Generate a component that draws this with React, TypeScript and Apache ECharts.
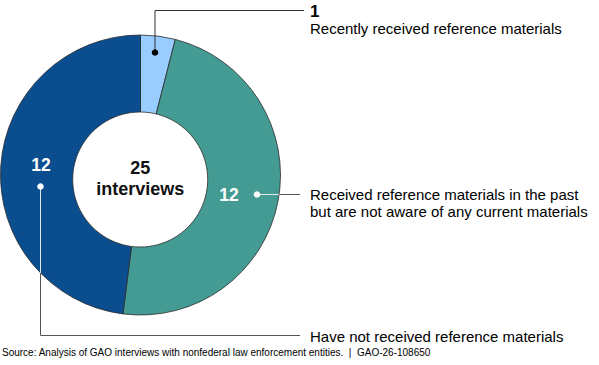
import React, { useEffect, useRef } from "react";
import * as echarts from "echarts";

const categories = [
  "Recently received reference materials",
  "Received reference materials in the past\nbut are not aware of any current materials",
  "Have not received reference materials",
];
const values = [1, 12, 12];
const colors = ["#99CCFF", "#449B93", "#0A4E90"];
const totalLabel = "interviews";
const sourceText =
  "Source: Analysis of GAO interviews with nonfederal law enforcement entities.  |  GAO-26-108650";

const FONT = "'Liberation Sans', Arial, sans-serif";

export default function App() {
  const ref = useRef<HTMLDivElement>(null);
  useEffect(() => {
    if (!ref.current) return;
    const chart = echarts.init(ref.current, null, { renderer: "svg" });
    const total = values.reduce((a, b) => a + b, 0);
    const lineDark = "#555555";
    const lineLight = "#E6E6E6";
    chart.setOption({
      animation: false,
      backgroundColor: "#ffffff",
      series: [
        {
          type: "pie",
          center: [140.5, 175],
          radius: [60, 140],
          startAngle: 90,
          clockwise: true,
          silent: true,
          label: { show: false },
          labelLine: { show: false },
          itemStyle: { borderColor: "#2b2b2b", borderWidth: 0.8 },
          data: categories.map((c, i) => ({
            name: c,
            value: values[i],
            itemStyle: { color: colors[i] },
          })),
        },
      ],
      graphic: [
        {
          type: "circle",
          shape: { cx: 140.2, cy: 179.5, r: 67.5 },
          style: { fill: "#ffffff", stroke: "#2b2b2b", lineWidth: 0.8 },
          z: 10,
        },
        {
          type: "text",
          x: 140.2,
          y: 168,
          style: {
            text: String(total),
            font: `bold 18px ${FONT}`,
            fill: "#111",
            align: "center",
            verticalAlign: "middle",
          },
          z: 11,
        },
        {
          type: "text",
          x: 140.2,
          y: 189,
          style: {
            text: totalLabel,
            font: `bold 18px ${FONT}`,
            fill: "#111",
            align: "center",
            verticalAlign: "middle",
          },
          z: 11,
        },
        // Recently received (1)
        {
          type: "polyline",
          shape: { points: [[155, 52.5], [155, 10.5], [304, 10.5]] },
          style: { stroke: "#333333", lineWidth: 1, fill: null },
          z: 12,
        },
        {
          type: "circle",
          shape: { cx: 155, cy: 52.5, r: 3.3 },
          style: { fill: "#000000" },
          z: 13,
        },
        {
          type: "text",
          x: 310,
          y: 11,
          style: {
            text: String(values[0]),
            font: `bold 17px ${FONT}`,
            fill: "#000",
            align: "left",
            verticalAlign: "middle",
          },
          z: 12,
        },
        {
          type: "text",
          x: 310,
          y: 28,
          style: {
            text: categories[0],
            font: `15px ${FONT}`,
            fill: "#000",
            align: "left",
            verticalAlign: "middle",
          },
          z: 12,
        },
        // Teal (12)
        {
          type: "line",
          shape: { x1: 257, y1: 194.5, x2: 279, y2: 194.5 },
          style: { stroke: lineLight, lineWidth: 1 },
          z: 12,
        },
        {
          type: "line",
          shape: { x1: 279, y1: 194.5, x2: 300, y2: 194.5 },
          style: { stroke: lineDark, lineWidth: 1 },
          z: 12,
        },
        {
          type: "circle",
          shape: { cx: 257, cy: 194.5, r: 3.3 },
          style: { fill: "#ffffff" },
          z: 13,
        },
        {
          type: "text",
          x: 229,
          y: 195,
          style: {
            text: String(values[1]),
            font: `bold 17.5px ${FONT}`,
            fill: "#ffffff",
            align: "center",
            verticalAlign: "middle",
          },
          z: 12,
        },
        {
          type: "text",
          x: 310,
          y: 203,
          style: {
            text: categories[1],
            font: `15px ${FONT}`,
            fill: "#000",
            align: "left",
            verticalAlign: "middle",
            lineHeight: 16.5,
          },
          z: 12,
        },
        // Dark blue (12)
        {
          type: "line",
          shape: { x1: 40.5, y1: 186.5, x2: 40.5, y2: 273 },
          style: { stroke: lineLight, lineWidth: 1 },
          z: 12,
        },
        {
          type: "polyline",
          shape: { points: [[40.5, 273], [40.5, 335.5], [300, 335.5]] },
          style: { stroke: lineDark, lineWidth: 1, fill: null },
          z: 12,
        },
        {
          type: "circle",
          shape: { cx: 40.5, cy: 186.5, r: 3.3 },
          style: { fill: "#ffffff" },
          z: 13,
        },
        {
          type: "text",
          x: 41,
          y: 165,
          style: {
            text: String(values[2]),
            font: `bold 17.5px ${FONT}`,
            fill: "#ffffff",
            align: "center",
            verticalAlign: "middle",
          },
          z: 12,
        },
        {
          type: "text",
          x: 310,
          y: 336,
          style: {
            text: categories[2],
            font: `15px ${FONT}`,
            fill: "#000",
            align: "left",
            verticalAlign: "middle",
          },
          z: 12,
        },
        {
          type: "text",
          x: 2,
          y: 352,
          style: {
            text: sourceText,
            font: `10px ${FONT}`,
            fill: "#000",
            align: "left",
            verticalAlign: "middle",
          },
          z: 12,
        },
      ],
    });
    return () => chart.dispose();
  }, []);
  return (
    <div
      ref={ref}
      style={{ position: "fixed", left: 0, top: 0, width: 599, height: 365 }}
    />
  );
}
